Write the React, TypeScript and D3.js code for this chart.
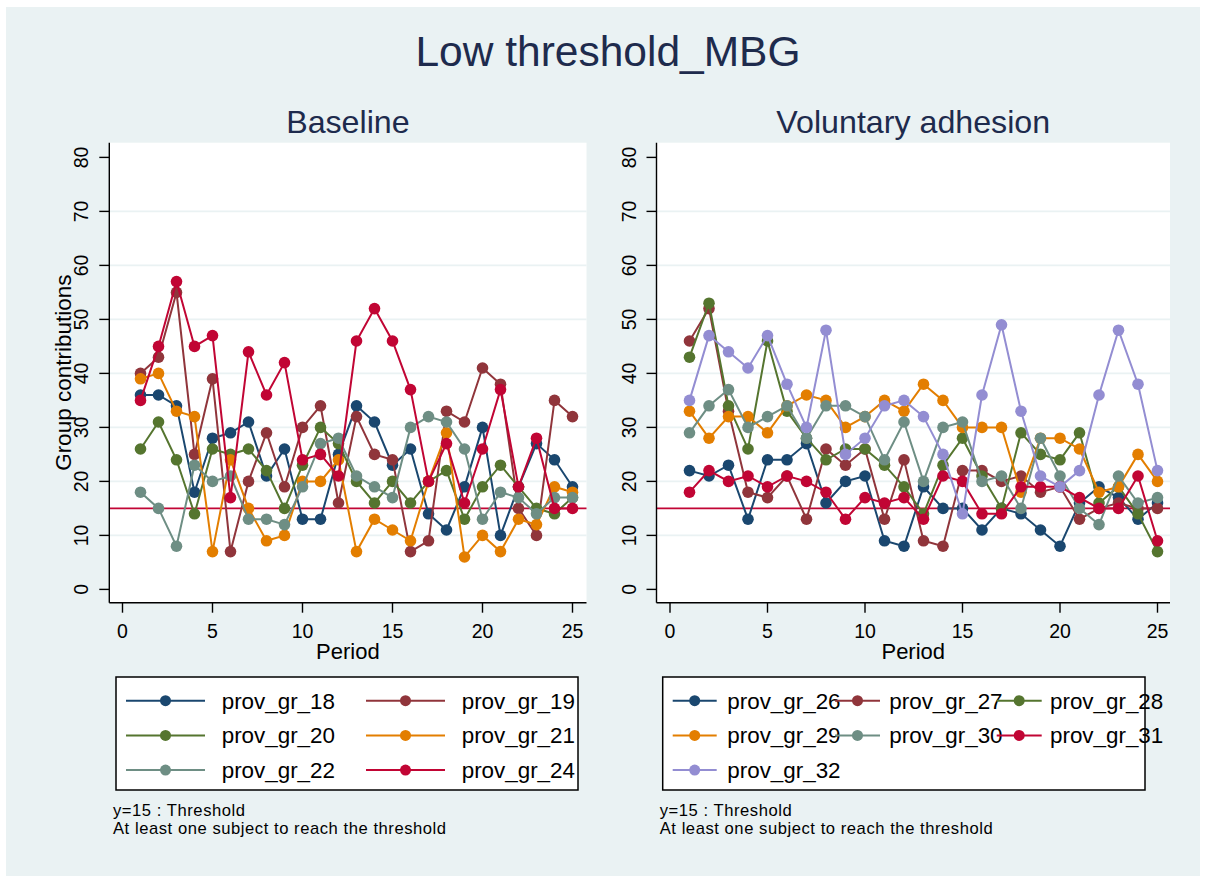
import React from 'react';
import {scaleLinear, line} from 'd3';

// periods 1..25
const periods = Array.from({length: 25}, (_, i) => i + 1);
const xTicks = [0, 5, 10, 15, 20, 25];
const yTicks = [0, 10, 20, 30, 40, 50, 60, 70, 80];
const threshold = 15;

// Baseline panel
const baselineNames = ['prov_gr_18', 'prov_gr_19', 'prov_gr_20', 'prov_gr_21', 'prov_gr_22', 'prov_gr_24'];
const g18 = [36, 36, 34, 18, 28, 29, 31, 21, 26, 13, 13, 25, 34, 31, 23, 26, 14, 11, 19, 30, 10, 19, 27, 24, 19];
const g19 = [40, 43, 55, 25, 39, 7, 20, 29, 19, 30, 34, 16, 32, 25, 24, 7, 9, 33, 31, 41, 38, 15, 10, 35, 32];
const g20 = [26, 31, 24, 14, 26, 25, 26, 22, 15, 23, 30, 27, 20, 16, 20, 16, 20, 22, 13, 19, 23, 19, 15, 14, 17];
const g21 = [39, 40, 33, 32, 7, 24, 15, 9, 10, 20, 20, 24, 7, 13, 11, 9, 20, 29, 6, 10, 7, 13, 12, 19, 18];
const g22 = [18, 15, 8, 23, 20, 21, 13, 13, 12, 19, 27, 28, 21, 19, 17, 30, 32, 31, 26, 13, 18, 17, 14, 17, 17];
const g24 = [35, 45, 57, 45, 47, 17, 44, 36, 42, 24, 25, 21, 46, 52, 46, 37, 20, 27, 16, 26, 37, 19, 28, 15, 15];

// Voluntary adhesion panel
const voluntaryNames = ['prov_gr_26', 'prov_gr_27', 'prov_gr_28', 'prov_gr_29', 'prov_gr_30', 'prov_gr_31', 'prov_gr_32'];
const g26 = [22, 21, 23, 13, 24, 24, 27, 16, 20, 21, 9, 8, 19, 15, 15, 11, 15, 14, 11, 8, 16, 19, 17, 13, 16];
const g27 = [46, 52, 33, 18, 17, 21, 13, 26, 23, 26, 13, 24, 9, 8, 22, 22, 20, 21, 18, 19, 13, 15, 16, 15, 15];
const g28 = [43, 53, 34, 26, 46, 33, 28, 24, 26, 26, 23, 19, 14, 23, 28, 21, 15, 29, 25, 24, 29, 16, 19, 14, 7];
const g29 = [33, 28, 32, 32, 29, 34, 36, 35, 30, 32, 35, 33, 38, 35, 30, 30, 30, 18, 28, 28, 26, 18, 19, 25, 20];
const g30 = [29, 34, 37, 30, 32, 34, 28, 34, 34, 32, 24, 31, 20, 30, 31, 20, 21, 15, 28, 21, 15, 12, 21, 16, 17];
const g31 = [18, 22, 20, 21, 19, 21, 20, 18, 13, 17, 16, 17, 13, 21, 20, 14, 14, 19, 19, 19, 17, 15, 15, 21, 9];
const g32 = [35, 47, 44, 41, 47, 38, 30, 48, 25, 28, 34, 35, 32, 25, 14, 36, 49, 33, 21, 19, 22, 36, 48, 38, 22];

// stata s2color palette
const palette = ['#1a476f', '#90353b', '#55752f', '#e37e00', '#6e8e84', '#c10534', '#938dd2'];

const font = '"Liberation Sans", Arial, Helvetica, sans-serif';
const titleColor = '#1e2b4d';
const bgColor = '#eaf2f3';

let Panel = props => {
    let {title, names, series, plot, xRange, legend, yTitle} = props;
    let xScale = scaleLinear().domain([0, 25]).range(xRange);
    let yScale = scaleLinear().domain([0, 80]).range([589.4, 157.4]);
    let l = line().x(d => xScale(d[0])).y(d => yScale(d[1]));
    let cx = (plot.x0 + plot.x1) / 2;

    return <g>
        <text x={cx} y={133} textAnchor="middle" fontSize="32.2" fill={titleColor}>{title}</text>
        <rect x={plot.x0} y={plot.y0} width={plot.x1 - plot.x0} height={plot.y1 - plot.y0} fill="#fff"/>

        {yTicks.filter(t => t > 0 && t < 80).map(t =>
            <line key={t} x1={plot.x0} x2={plot.x1} y1={yScale(t)} y2={yScale(t)} stroke={bgColor} strokeWidth="1.6"/>)}

        <line x1={plot.x0} x2={plot.x1} y1={yScale(threshold)} y2={yScale(threshold)} stroke="#c10534" strokeWidth="1.8"/>

        {series.map((s, i) => <g key={i}>
            <path d={l(periods.map((p, j) => [p, s[j]]))} fill="none" stroke={palette[i]} strokeWidth="2"/>
            {periods.map((p, j) => <circle key={j} cx={xScale(p)} cy={yScale(s[j])} r="5.8" fill={palette[i]}/>)}
        </g>)}

        {/* axes */}
        <g stroke="#000" strokeWidth="1.4">
            <line x1={plot.x0} x2={plot.x0} y1={plot.y0} y2={plot.y1}/>
            <line x1={plot.x0} x2={plot.x1} y1={plot.y1} y2={plot.y1}/>
            {yTicks.map(t => <line key={t} x1={plot.x0 - 10} x2={plot.x0} y1={yScale(t)} y2={yScale(t)}/>)}
            {xTicks.map(t => <line key={t} x1={xScale(t)} x2={xScale(t)} y1={plot.y1} y2={plot.y1 + 10}/>)}
        </g>
        {yTicks.map(t =>
            <text key={t} transform={`translate(${plot.x0 - 21},${yScale(t)}) rotate(-90)`} textAnchor="middle" fontSize="19.5">{t}</text>)}
        {xTicks.map(t =>
            <text key={t} x={xScale(t)} y={638} textAnchor="middle" fontSize="19.5">{t}</text>)}
        <text x={cx} y={659} textAnchor="middle" fontSize="22">Period</text>
        {yTitle &&
        <text transform={`translate(71,${(plot.y0 + plot.y1) / 2}) rotate(-90)`} textAnchor="middle" fontSize="22.5">{yTitle}</text>
        }

        {/* legend */}
        <rect x={legend.x0} y={677} width={legend.x1 - legend.x0} height={113} fill="#fff" stroke="#000" strokeWidth="1.5"/>
        {names.map((n, i) => {
            let col = i % legend.cols.length;
            let row = Math.floor(i / legend.cols.length);
            let c = legend.cols[col];
            let y = 700.7 + row * 34.7;
            return <g key={n}>
                <line x1={c.l0} x2={c.l1} y1={y} y2={y} stroke={palette[i]} strokeWidth="2"/>
                <circle cx={(c.l0 + c.l1) / 2} cy={y} r="5.5" fill={palette[i]}/>
                <text x={c.t} y={y + 8} fontSize="22.4">{n}</text>
            </g>;
        })}

        <text x={legend.x0 - 3} y={815.5} fontSize="16.6" letterSpacing="0.55">y=15 : Threshold</text>
        <text x={legend.x0 - 3} y={834} fontSize="16.6" letterSpacing="0.55">At least one subject to reach the threshold</text>
    </g>;
};

const App = () => {
    return (
        <svg width={1206} height={882} style={{position: 'absolute', left: 0, top: 0}} fontFamily={font}>
            <rect x="0" y="0" width="1206" height="882" fill="#fff"/>
            <rect x="6" y="7" width="1194" height="869" fill={bgColor}/>
            <text x={608} y={66} textAnchor="middle" fontSize="42.5" fill={titleColor}>Low threshold_MBG</text>

            <Panel title="Baseline" names={baselineNames} series={[g18, g19, g20, g21, g22, g24]}
                   plot={{x0: 109.3, x1: 586.5, y0: 142.7, y1: 602.7}} xRange={[122.5, 572.5]}
                   yTitle="Group contributions"
                   legend={{x0: 116, x1: 578, cols: [{l0: 126, l1: 205, t: 221.7}, {l0: 366, l1: 445, t: 461.7}]}}/>

            <Panel title="Voluntary adhesion" names={voluntaryNames} series={[g26, g27, g28, g29, g30, g31, g32]}
                   plot={{x0: 656.5, x1: 1170, y0: 142.7, y1: 602.7}} xRange={[670, 1157.5]}
                   legend={{x0: 662.7, x1: 1145, cols: [{l0: 672.7, l1: 716.7, t: 727.3}, {l0: 835, l1: 880, t: 889.3}, {l0: 996.7, l1: 1041.7, t: 1050}]}}/>
        </svg>
    );
};

export default App;
